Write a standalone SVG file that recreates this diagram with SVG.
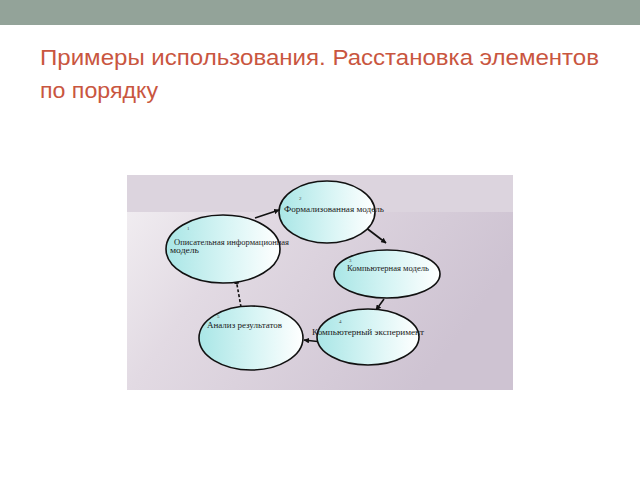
<svg xmlns="http://www.w3.org/2000/svg" width="640" height="480" viewBox="0 0 640 480">
<style>
.title{font-family:"Liberation Sans",Arial,sans-serif;font-size:22px;fill:#c9563f}
.node ellipse{fill:url(#eg);stroke:#111;stroke-width:1.6}
.lbl{font-family:"Liberation Serif","Times New Roman",serif;font-size:8px;fill:#1a1a1a}
.num{font-family:"Liberation Serif","Times New Roman",serif;font-size:5px;fill:#444}
.conn{stroke:#111;stroke-width:1.6;fill:none;marker-end:url(#ah)}
</style>
<defs>
<linearGradient id="eg" x1="0" y1="0" x2="1" y2="0">
<stop offset="0" stop-color="#a9e6e6"/>
<stop offset="0.55" stop-color="#d9f5f5"/>
<stop offset="1" stop-color="#ffffff"/>
</linearGradient>
<linearGradient id="bg" x1="0" y1="0" x2="1" y2="0.4">
<stop offset="0" stop-color="#f3f0f3"/>
<stop offset="0.35" stop-color="#e2dae3"/>
<stop offset="1" stop-color="#cec3d2"/>
</linearGradient>
<marker id="ah" viewBox="0 0 10 10" refX="9" refY="5" markerWidth="3.5" markerHeight="3.5" orient="auto" markerUnits="strokeWidth">
<path d="M0,0 L10,5 L0,10 z" fill="#111"/>
</marker>
</defs>
<rect x="0" y="0" width="640" height="480" fill="#ffffff"/>
<rect x="0" y="0" width="640" height="25" fill="#93a399"/>
<text class="title" x="40" y="65" textLength="559" lengthAdjust="spacingAndGlyphs">Примеры использования. Расстановка элементов</text>
<text class="title" x="40" y="98" textLength="118" lengthAdjust="spacingAndGlyphs">по порядку</text>
<g id="photo">
<rect x="127" y="175" width="386" height="215" fill="url(#bg)"/>
<rect x="127" y="175" width="386" height="37" fill="#dcd4de"/>
</g>
<g id="connectors">
<line class="conn" x1="255" y1="218" x2="279" y2="210"/>
<line class="conn" x1="365" y1="227" x2="386" y2="243"/>
<line class="conn" x1="384" y1="299" x2="376" y2="310"/>
<line class="conn" x1="322" y1="342" x2="304" y2="340"/>
<line class="conn" x1="241" y1="307" x2="236" y2="279" stroke-dasharray="3,2"/>
</g>
<g id="node-formal" class="node">
<ellipse cx="327" cy="212" rx="48" ry="31"/>
<text class="num" x="299" y="200">2</text>
<text class="lbl" x="284" y="212" textLength="100" lengthAdjust="spacingAndGlyphs">Формализованная модель</text>
</g>
<g id="node-descr" class="node">
<ellipse cx="223" cy="249" rx="57" ry="34"/>
<text class="num" x="187" y="230">1</text>
<text class="lbl" x="174" y="245" textLength="115" lengthAdjust="spacingAndGlyphs">Описательная информационная</text>
<text class="lbl" x="170" y="253" textLength="29" lengthAdjust="spacingAndGlyphs">модель</text>
</g>
<g id="node-comp" class="node">
<ellipse cx="387" cy="274" rx="53" ry="24"/>
<text class="num" x="349" y="262">3</text>
<text class="lbl" x="347" y="271" textLength="82" lengthAdjust="spacingAndGlyphs">Компьютерная модель</text>
</g>
<g id="node-exp" class="node">
<ellipse cx="368" cy="337" rx="51" ry="28"/>
<text class="num" x="339" y="323">4</text>
<text class="lbl" x="312" y="335" textLength="112" lengthAdjust="spacingAndGlyphs">Компьютерный эксперимент</text>
</g>
<g id="node-anal" class="node">
<ellipse cx="251" cy="338" rx="52" ry="32"/>
<text class="num" x="217" y="318">5</text>
<text class="lbl" x="207" y="328" textLength="75" lengthAdjust="spacingAndGlyphs">Анализ результатов</text>
</g>
</svg>
